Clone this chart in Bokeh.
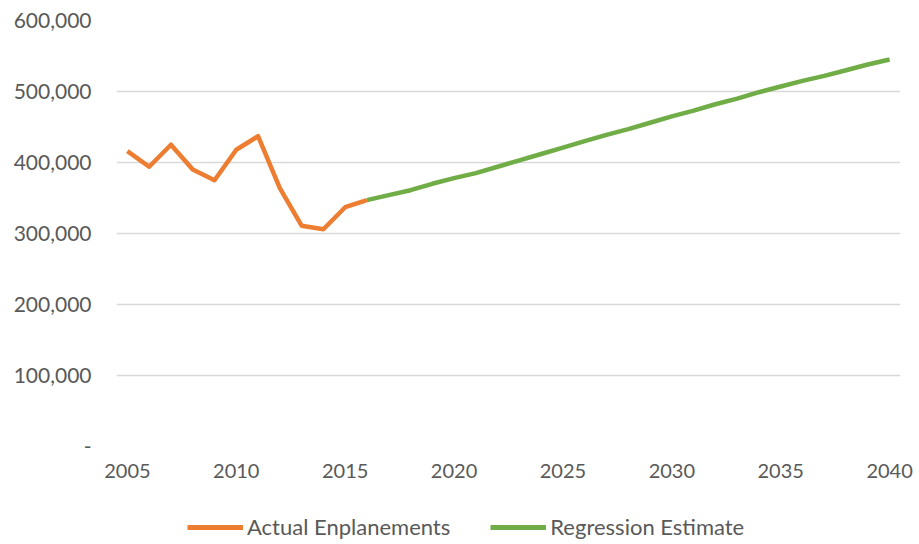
from bokeh.plotting import figure
from bokeh.layouts import column
from bokeh.models import Range1d, CustomJSTickFormatter, FixedTicker, Legend, LegendItem
from bokeh.embed import file_html
from bokeh.resources import INLINE

actual_years = [2005, 2006, 2007, 2008, 2009, 2010, 2011, 2012, 2013, 2014, 2015, 2016]
actual_values = [416000, 394000, 425000, 390000, 375000, 418000, 437000, 364000, 311000, 306000, 337000, 347000]

est_years = list(range(2016, 2041))
est_values = [347000, 354000, 361000, 370000, 378000, 385000, 394000, 403000, 412000, 421000,
              430000, 439000, 447000, 456000, 465000, 473000, 482000, 490000, 499000, 507000,
              515000, 522000, 530000, 538000, 545000]

x_ticks = [2005, 2010, 2015, 2020, 2025, 2030, 2035, 2040]
y_ticks = [0, 100000, 200000, 300000, 400000, 500000, 600000]

series_names = ["Actual Enplanements", "Regression Estimate"]
series_colors = ["#ED7D31", "#70AD47"]

FONT = "Lato"
GREY = "#595959"

p = figure(width=919, height=510, output_backend="svg", toolbar_location=None,
           x_range=Range1d(2004.5, 2040.5), y_range=Range1d(0, 600000),
           min_border_left=116, min_border_right=19, min_border_top=20, min_border_bottom=64)
p.outline_line_color = None
p.background_fill_color = "white"
p.border_fill_color = "white"

p.xgrid.grid_line_color = None
p.ygrid.ticker = FixedTicker(ticks=y_ticks)
p.ygrid.grid_line_color = "#D9D9D9"
p.ygrid.grid_line_width = 1.5

p.xaxis.ticker = FixedTicker(ticks=x_ticks)
p.yaxis.ticker = FixedTicker(ticks=y_ticks)
p.yaxis.formatter = CustomJSTickFormatter(code="return tick == 0 ? '-' : tick.toLocaleString('en-US');")
for ax in (p.xaxis, p.yaxis):
    ax.axis_line_color = None
    ax.major_tick_line_color = None
    ax.minor_tick_line_color = None
    ax.major_label_text_font = FONT
    ax.major_label_text_font_size = "21px"
    ax.major_label_text_color = GREY
p.xaxis.major_label_text_font_size = "20px"
p.xaxis.major_label_standoff = 11
p.yaxis.major_label_standoff = 19

p.line(actual_years, actual_values, line_color=series_colors[0], line_width=4.5, line_join="round")
p.line(est_years, est_values, line_color=series_colors[1], line_width=4.5, line_join="round")

# legend strip below the chart (its renderers hold points outside the visible range)
lg = figure(width=919, height=34, output_backend="svg", toolbar_location=None,
            x_range=Range1d(0, 1), y_range=Range1d(0, 1),
            min_border_left=116, min_border_right=19, min_border_top=0, min_border_bottom=0)
lg.outline_line_color = None
lg.axis.visible = False
lg.grid.visible = False
lr = [lg.line([-2, -1], [-2, -1], line_color=c, line_width=5) for c in series_colors]
legend = Legend(items=[LegendItem(label=n, renderers=[r]) for n, r in zip(series_names, lr)],
                orientation="horizontal", location=(71, 4),
                label_text_font=FONT, label_text_font_size="22px", label_text_color=GREY,
                glyph_width=56, label_standoff=4, spacing=40, padding=0, margin=0,
                border_line_color=None, background_fill_alpha=0)
lg.add_layout(legend, "center")

open("out.html", "w").write(file_html(column(p, lg, spacing=0), INLINE))
